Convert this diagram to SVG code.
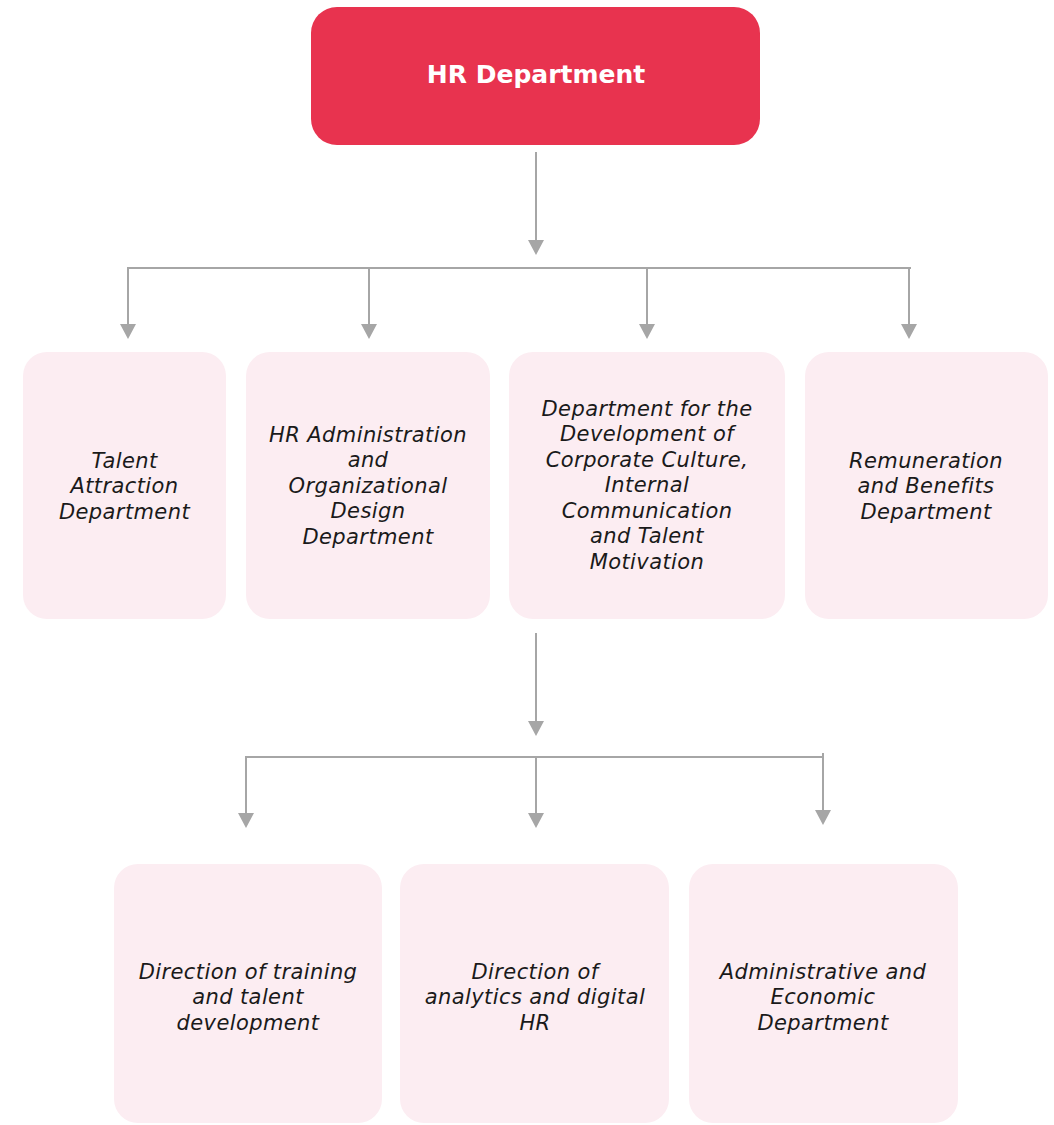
<svg xmlns="http://www.w3.org/2000/svg" width="1054" height="1125" viewBox="0 0 1054 1125">
<style>
.root{fill:#E8334F}
.box{fill:#FCEDF2}
.t{font-family:"DejaVu Sans","Open Sans",sans-serif;font-style:italic;font-size:21px;letter-spacing:0.4px;fill:#1a1a1a;text-anchor:middle}
.h{font-family:"DejaVu Sans","Open Sans",sans-serif;font-weight:bold;font-size:25px;fill:#ffffff;text-anchor:middle}
.c{stroke:#A6A6A6;stroke-width:2;fill:none}
.a{fill:#A6A6A6}
</style>
<rect width="1054" height="1125" fill="#ffffff"/>
<g id="connectors">
<line class="c" x1="536" y1="152" x2="536" y2="240"/>
<polygon class="a" points="528,240 544,240 536,255"/>
<line class="c" x1="127" y1="268" x2="911" y2="268"/>
<line class="c" x1="128" y1="268" x2="128" y2="324"/>
<polygon class="a" points="120,324 136,324 128,339"/>
<line class="c" x1="369" y1="268" x2="369" y2="324"/>
<polygon class="a" points="361,324 377,324 369,339"/>
<line class="c" x1="647" y1="268" x2="647" y2="324"/>
<polygon class="a" points="639,324 655,324 647,339"/>
<line class="c" x1="909" y1="268" x2="909" y2="324"/>
<polygon class="a" points="901,324 917,324 909,339"/>
<line class="c" x1="536" y1="633" x2="536" y2="721"/>
<polygon class="a" points="528,721 544,721 536,736"/>
<line class="c" x1="245" y1="757" x2="824" y2="757"/>
<line class="c" x1="246" y1="757" x2="246" y2="813"/>
<polygon class="a" points="238,813 254,813 246,828"/>
<line class="c" x1="536" y1="757" x2="536" y2="813"/>
<polygon class="a" points="528,813 544,813 536,828"/>
<line class="c" x1="823" y1="753" x2="823" y2="810"/>
<polygon class="a" points="815,810 831,810 823,825"/>
</g>
<g id="hr">
<rect class="root" x="311" y="7" width="449" height="138" rx="26"/>
<text class="h" x="536" y="83">HR Department</text>
</g>
<g id="talent-attraction">
<rect class="box" x="23" y="352" width="203" height="267" rx="24"/>
<text class="t"><tspan x="124.5" y="467.5">Talent</tspan><tspan x="124.5" y="493">Attraction</tspan><tspan x="124.5" y="518.5">Department</tspan></text>
</g>
<g id="hr-admin">
<rect class="box" x="246" y="352" width="244" height="267" rx="24"/>
<text class="t"><tspan x="368" y="441.5">HR Administration</tspan><tspan x="368" y="467">and</tspan><tspan x="368" y="492.5">Organizational</tspan><tspan x="368" y="518">Design</tspan><tspan x="368" y="543.5">Department</tspan></text>
</g>
<g id="culture">
<rect class="box" x="509" y="352" width="276" height="267" rx="24"/>
<text class="t"><tspan x="647" y="415.5">Department for the</tspan><tspan x="647" y="441">Development of</tspan><tspan x="647" y="466.5">Corporate Culture,</tspan><tspan x="647" y="492">Internal</tspan><tspan x="647" y="517.5">Communication</tspan><tspan x="647" y="543">and Talent</tspan><tspan x="647" y="568.5">Motivation</tspan></text>
</g>
<g id="remuneration">
<rect class="box" x="805" y="352" width="243" height="267" rx="24"/>
<text class="t"><tspan x="926" y="467.5">Remuneration</tspan><tspan x="926" y="493">and Benefits</tspan><tspan x="926" y="518.5">Department</tspan></text>
</g>
<g id="training">
<rect class="box" x="114" y="864" width="268" height="259" rx="24"/>
<text class="t"><tspan x="248" y="978.5">Direction of training</tspan><tspan x="248" y="1004">and talent</tspan><tspan x="248" y="1029.5">development</tspan></text>
</g>
<g id="analytics">
<rect class="box" x="400" y="864" width="269" height="259" rx="24"/>
<text class="t"><tspan x="535" y="978.5">Direction of</tspan><tspan x="535" y="1004">analytics and digital</tspan><tspan x="535" y="1029.5">HR</tspan></text>
</g>
<g id="admin-economic">
<rect class="box" x="689" y="864" width="269" height="259" rx="24"/>
<text class="t"><tspan x="823" y="978.5">Administrative and</tspan><tspan x="823" y="1004">Economic</tspan><tspan x="823" y="1029.5">Department</tspan></text>
</g>
</svg>
